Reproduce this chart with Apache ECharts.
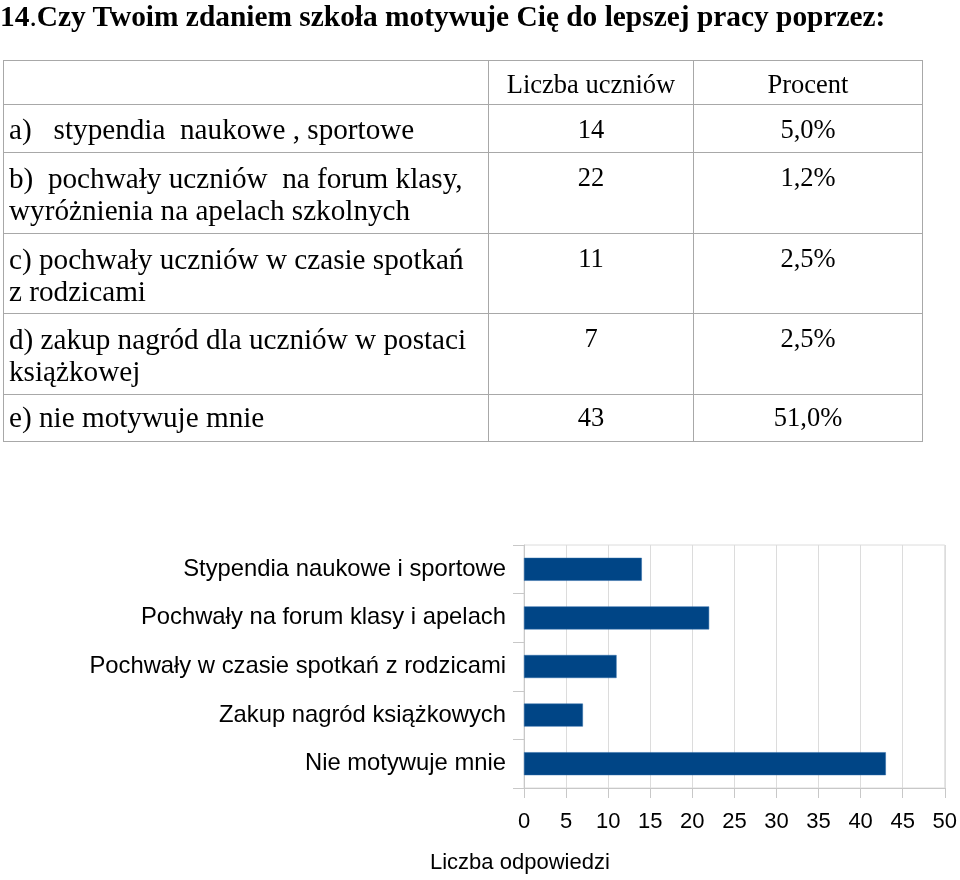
<!DOCTYPE html>
<html>
<head>
<meta charset="utf-8">
<script src="https://cdn.jsdelivr.net/npm/echarts@6/dist/echarts.min.js"></script>
<style>
html,body{margin:0;padding:0;background:#fff;width:960px;height:880px;overflow:hidden;}
#chart{position:absolute;left:0;top:0;width:960px;height:880px;}
#title{position:absolute;left:0;top:1px;font-family:"Liberation Serif",serif;font-size:29.4px;font-weight:bold;white-space:nowrap;line-height:30px;}
#title .dot{font-weight:normal;}
table{position:absolute;left:3px;top:60px;border-collapse:collapse;font-family:"Liberation Serif",serif;color:#000;}
td{border:1px solid #a8a8a8;padding:0;vertical-align:top;line-height:32px;}
td.l{width:479px;padding-left:5px;font-size:29.2px;}
td.n{width:204px;text-align:center;font-size:26.5px;}
td.p{width:228px;text-align:center;font-size:26.5px;}
</style>
</head>
<body>
<div id="chart"></div>
<div id="title">14<span class="dot">.</span>Czy Twoim zdaniem szkoła motywuje Cię do lepszej pracy poprzez:</div>
<table id="tbl"></table>
<script>
var tableLabels = [
  "a) &nbsp; stypendia &nbsp;naukowe , sportowe",
  "b) &nbsp;pochwały uczniów &nbsp;na forum klasy,<br>wyróżnienia na apelach szkolnych",
  "c) pochwały uczniów w czasie spotkań<br>z rodzicami",
  "d) zakup nagród dla uczniów w postaci<br>książkowej",
  "e) nie motywuje mnie"
];
var tableCounts = [14, 22, 11, 7, 43];
var tablePercents = ["5,0%", "1,2%", "2,5%", "2,5%", "51,0%"];
var headerLabels = ["", "Liczba uczniów", "Procent"];

var categories = [
  "Stypendia naukowe i sportowe",
  "Pochwały na forum klasy i apelach",
  "Pochwały w czasie spotkań z rodzicami",
  "Zakup nagród książkowych",
  "Nie motywuje mnie"
];
var values = [14, 22, 11, 7, 43];
var xTicks = [0, 5, 10, 15, 20, 25, 30, 35, 40, 45, 50];

// table
var rowHeights = [44, 48, 81, 80, 81, 47];
var rowPads = [8, 9, 9, 9, 6];
var numPads = [8, 8, 8, 8, 6];
var tbl = document.getElementById('tbl');
var html = '<tr style="height:' + rowHeights[0] + 'px"><td class="l"></td><td class="n" style="padding-top:7px">' + headerLabels[1] + '</td><td class="p" style="padding-top:7px">' + headerLabels[2] + '</td></tr>';
for (var i = 0; i < tableLabels.length; i++) {
  html += '<tr style="height:' + rowHeights[i + 1] + 'px"><td class="l" style="padding-top:' + rowPads[i] + 'px">' + tableLabels[i] + '</td><td class="n" style="padding-top:' + numPads[i] + 'px">' + tableCounts[i] + '</td><td class="p" style="padding-top:' + numPads[i] + 'px">' + tablePercents[i] + '</td></tr>';
}
tbl.innerHTML = html;

var chart = echarts.init(document.getElementById('chart'), null, {renderer: 'canvas'});
chart.setOption({
  animation: false,
  backgroundColor: 'transparent',
  textStyle: {fontFamily: 'Liberation Sans, Arial, sans-serif'},
  grid: {left: 524, right: 13, top: 545, bottom: 92, show: true, borderColor: '#dcdcdc', borderWidth: 1},
  xAxis: {
    type: 'value', min: xTicks[0], max: xTicks[xTicks.length - 1], interval: 5,
    axisLine: {show: true, lineStyle: {color: '#c8c8c8'}},
    axisTick: {show: true, length: 10, lineStyle: {color: '#c8c8c8'}},
    axisLabel: {fontSize: 22, color: '#000', margin: 23, fontFamily: 'Liberation Sans'},
    splitLine: {show: true, lineStyle: {color: '#dcdcdc'}}
  },
  yAxis: {
    type: 'category', inverse: true, data: categories,
    axisLine: {show: true, lineStyle: {color: '#c8c8c8'}},
    axisTick: {show: true, length: 11, lineStyle: {color: '#c8c8c8'}},
    axisLabel: {fontSize: 23.8, color: '#000', margin: 18, fontFamily: 'Liberation Sans'},
    splitLine: {show: false}
  },
  graphic: [{
    type: 'text', left: 430, top: 852,
    style: {text: 'Liczba odpowiedzi', fontSize: 22, fill: '#000', fontFamily: 'Liberation Sans'}
  }],
  series: [{
    type: 'bar', data: values, barWidth: 23,
    itemStyle: {color: '#004586', borderColor: '#2a6aa8', borderWidth: 0.5}
  }]
});
</script>
</body>
</html>
